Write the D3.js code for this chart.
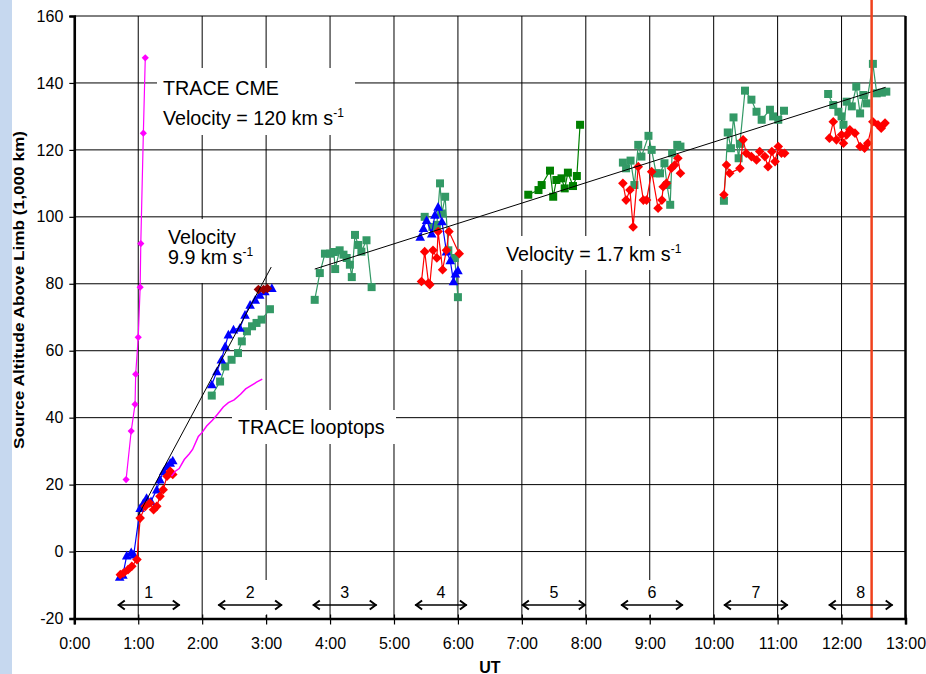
<!DOCTYPE html>
<html>
<head>
<meta charset="utf-8">
<script src="https://cdn.jsdelivr.net/npm/d3@7/dist/d3.min.js"></script>
<style>
  html, body { margin: 0; padding: 0; background: #ffffff; }
  svg { display: block; }
  text { font-family: "Liberation Sans", Arial, Helvetica, sans-serif; fill: #000; }
</style>
</head>
<body>
<svg id="chart" width="926" height="674"></svg>
<script>
// ---- data: [hour UT, altitude in 1,000 km] ----
const cmeTrace = [[0.81,21.5],[0.89,36],[0.95,44],[0.96,53],[1.0,64],[1.03,79],[1.04,92],[1.08,125],[1.11,147.5]];
const looptops = [[1.52,22.5],[1.58,24],[1.64,24.8],[1.72,27.5],[1.80,29.2],[1.85,30.5],[1.94,34.4],[2.0,35.6],[2.07,37.5],[2.16,39.2],[2.24,41],[2.33,43.2],[2.41,44.5],[2.5,45.3],[2.6,47],[2.68,48.6],[2.75,49.4],[2.85,50.6],[2.94,51.5]];

const bluePhase1 = [[0.71,-7.6],[0.76,-7.0],[0.82,-1.2],[0.89,-0.2],[0.93,-0.9],[1.03,13],[1.08,14.5],[1.13,16],[1.2,15],[1.29,18.5],[1.34,21.5],[1.40,24],[1.45,25.5],[1.50,26.5],[1.54,27.2]];
const bluePhase2 = [[2.15,49.9],[2.23,53.8],[2.30,57.3],[2.36,61.3],[2.41,64.8],[2.49,66.3],[2.59,66.8],[2.67,70.7],[2.75,73.7],[2.83,75.2],[2.90,76.7],[2.98,77.7],[3.09,78.7]];
const bluePhase4 = [[5.41,94],[5.46,96.6],[5.51,99],[5.59,95],[5.64,100.6],[5.69,103],[5.75,98.6],[5.82,89.6],[5.88,87],[5.93,80.7],[5.96,83],[6.0,84]];

const redPhase1 = [[0.72,-6.9],[0.77,-6.4],[0.84,-5.4],[0.90,-4.4],[0.98,-2.4],[1.03,10],[1.11,13.5],[1.18,14.5],[1.24,12.5],[1.29,13.5],[1.34,16.5],[1.39,18.5],[1.45,22.5],[1.50,24],[1.54,23]];
const darkRedPhase2 = [[2.88,78.3],[2.96,78.3],[3.02,78.6]];
const redPhase4 = [[5.43,80.7],[5.48,89.6],[5.54,80.2],[5.56,79.7],[5.61,90],[5.67,87.7],[5.69,95.6],[5.76,84.2],[5.82,90],[5.86,95.6],[6.02,89]];
const redPhase6 = [[8.58,110],[8.63,105],[8.69,108],[8.74,97],[8.82,115],[8.90,105],[8.95,105],[9.03,113.5],[9.13,102.6],[9.19,105],[9.21,109],[9.26,110],[9.34,114.5],[9.39,115.5],[9.44,117.5],[9.48,113]];
const redPhase7 = [[10.16,106.6],[10.20,115.5],[10.25,113],[10.41,114.5],[10.46,123],[10.51,119],[10.59,118],[10.67,117],[10.72,119.5],[10.80,118],[10.85,115],[10.91,119.5],[10.96,116.5],[11.01,121],[11.06,119],[11.11,119]];
const redPhase8 = [[11.81,123.5],[11.87,128.4],[11.92,123],[12.00,124.5],[12.03,122],[12.08,124.5],[12.13,126],[12.21,125],[12.29,121],[12.36,120.5],[12.41,122],[12.49,128.4],[12.57,127.5],[12.62,126.5],[12.68,128]];

const greenPhase2 = [[2.15,46.6],[2.28,50.8],[2.36,55.3],[2.46,57.3],[2.56,59.3],[2.62,62.8],[2.70,65.8],[2.78,67.3],[2.85,68.3],[2.93,69.3],[3.06,72.4]];
const greenPhase3 = [[3.76,75.2],[3.84,83.2],[3.92,89],[4.00,89],[4.06,89.5],[4.08,84.4],[4.15,90],[4.21,88.7],[4.26,87.7],[4.31,85.7],[4.34,82],[4.39,94.6],[4.44,91.6],[4.49,89.6],[4.57,93],[4.65,79]];
const greenPhase4 = [[5.48,100],[5.60,97],[5.67,97.6],[5.72,110],[5.75,101],[5.80,106],[5.85,90],[5.95,87.7],[6.0,76]];
const greenPhase6 = [[8.58,116.2],[8.63,114.5],[8.70,116.8],[8.76,109.5],[8.82,121.5],[8.87,118],[8.98,124.2],[9.03,120],[9.10,113],[9.16,113],[9.23,116],[9.27,109.5],[9.32,103.6],[9.35,119],[9.43,121.5],[9.48,121]];
const greenPhase7 = [[10.16,104.8],[10.22,125.2],[10.27,120.5],[10.31,129.7],[10.39,117.5],[10.41,121.8],[10.49,137.7],[10.59,135],[10.67,131.4],[10.75,129],[10.88,132],[10.93,130],[11.01,129],[11.10,131.7]];
const greenPhase8 = [[11.79,136.7],[11.87,133.4],[11.95,131.4],[12.00,130],[12.03,127.5],[12.08,134.4],[12.16,133],[12.23,138.9],[12.29,130.9],[12.34,136.4],[12.39,133.9],[12.49,145.7],[12.55,136.9],[12.63,137.1],[12.70,137.4]];
const darkGreenPhase5 = [[7.10,106.6],[7.26,108],[7.31,109.5],[7.44,113.8],[7.49,106],[7.54,111],[7.62,111.5],[7.67,108.5],[7.72,113.2],[7.80,109.2],[7.86,112.2],[7.91,127.5]];

// fitted velocity lines
const fitFast = [[1.0,10.8],[3.08,85]];
const fitSlow = [[3.76,84.4],[12.69,138.7]];

// marked time
const markerHour = 12.47;

// observation intervals
const phaseLabels = ["1","2","3","4","5","6","7","8"];
const phaseStart = [0.68,2.25,3.73,5.33,7.00,8.55,10.16,11.80];
const phaseEnd   = [1.65,3.25,4.73,6.14,8.00,9.52,11.16,12.80];

// axes
const xTickHours = [0,1,2,3,4,5,6,7,8,9,10,11,12,13];
const xTickLabels = ["0:00","1:00","2:00","3:00","4:00","5:00","6:00","7:00","8:00","9:00","10:00","11:00","12:00","13:00"];
const yTicks = [-20,0,20,40,60,80,100,120,140,160];

// ---- drawing ----
const svg = d3.select("#chart");
const plotLeft = 74.3, plotRight = 905.5, plotTop = 16, plotBottom = 618.5;
const x = d3.scaleLinear().domain([0, 13]).range([plotLeft, plotRight]);
const y = d3.scaleLinear().domain([-20, 160]).range([plotBottom, plotTop]);

svg.append("rect").attr("width", 926).attr("height", 674).attr("fill", "#fff");
svg.append("rect").attr("x", 0).attr("y", 0).attr("width", 12).attr("height", 674).attr("fill", "#c6d8ef");

// grid
const grid = svg.append("g").attr("stroke", "#000").attr("stroke-width", 1);
grid.selectAll("line.h").data(yTicks).join("line").attr("class", "h")
  .attr("x1", plotLeft).attr("x2", plotRight).attr("y1", d => y(d)).attr("y2", d => y(d));
grid.selectAll("line.v").data(xTickHours).join("line").attr("class", "v")
  .attr("x1", d => x(d)).attr("x2", d => x(d)).attr("y1", plotTop).attr("y2", plotBottom);

// text boxes that hide the grid behind them
const boxes = svg.append("g").attr("fill", "#fff");
boxes.append("rect").attr("x", 157).attr("y", 68).attr("width", 198).attr("height", 67);
boxes.append("rect").attr("x", 160).attr("y", 219).attr("width", 96).attr("height", 64);
boxes.append("rect").attr("x", 232).attr("y", 410).attr("width", 164).attr("height", 34);
boxes.append("rect").attr("x", 500).attr("y", 236).attr("width", 190).attr("height", 34);
const boxedPhases = ["2", "6"];
phaseLabels.forEach((lab, i) => {
  if (!boxedPhases.includes(lab)) return;
  const cx = x((phaseStart[i] + phaseEnd[i]) / 2);
  boxes.append("rect").attr("x", cx - 20).attr("y", 580).attr("width", 40).attr("height", 35);
});

// marker shapes
const diamond = r => `M0,${-r}L${r},0L0,${r}L${-r},0Z`;
const triangle = r => `M0,${-r}L${r},${r * 0.8}L${-r},${r * 0.8}Z`;
const square = r => `M${-r},${-r}H${r}V${r}H${-r}Z`;
const line = d3.line().x(d => x(d[0])).y(d => y(d[1]));

function series(data, color, lineColor, shape, withLine = true) {
  const g = svg.append("g");
  if (withLine) {
    g.append("path").attr("d", line(data)).attr("fill", "none")
      .attr("stroke", lineColor).attr("stroke-width", 1.2);
  }
  g.selectAll("path.m").data(data).join("path").attr("class", "m")
    .attr("transform", d => `translate(${x(d[0])},${y(d[1])})`)
    .attr("d", shape).attr("fill", color);
}

const seaGreen = "#339966";
[greenPhase2, greenPhase3, greenPhase4, greenPhase6, greenPhase7, greenPhase8]
  .forEach(s => series(s, seaGreen, seaGreen, square(4)));
series(darkGreenPhase5, "#008000", "#008000", square(4));
[bluePhase1, bluePhase2, bluePhase4].forEach(s => series(s, "#0000ff", "#0000ff", triangle(4.8)));
[redPhase1, redPhase4, redPhase6, redPhase7, redPhase8].forEach(s => series(s, "#ff0000", "#ff0000", diamond(4.8)));
series(darkRedPhase2, "#990000", "#990000", diamond(4.8));

// TRACE curves
svg.append("path").attr("d", line(looptops)).attr("fill", "none").attr("stroke", "#ff00ff").attr("stroke-width", 1.5);
series(cmeTrace, "#ff00ff", "#ff00ff", diamond(3.6));

// velocity fits
[fitFast, fitSlow].forEach(f => svg.append("path").attr("d", line(f))
  .attr("fill", "none").attr("stroke", "#000").attr("stroke-width", 1));

// marked time
svg.append("line").attr("x1", x(markerHour)).attr("x2", x(markerHour))
  .attr("y1", 0).attr("y2", plotBottom).attr("stroke", "#f0401c").attr("stroke-width", 2.5);

// interval arrows
const ag = svg.append("g");
phaseLabels.forEach((lab, i) => {
  const x1 = x(phaseStart[i]), x2 = x(phaseEnd[i]), ay = 605;
  ag.append("line").attr("x1", x1).attr("x2", x2).attr("y1", ay).attr("y2", ay)
    .attr("stroke", "#000").attr("stroke-width", 1.5);
  ag.append("path").attr("d", `M${x1 + 7},${ay - 4.5}L${x1 + 1},${ay}L${x1 + 7},${ay + 4.5}`)
    .attr("fill", "none").attr("stroke", "#000").attr("stroke-width", 2);
  ag.append("path").attr("d", `M${x2 - 7},${ay - 4.5}L${x2 - 1},${ay}L${x2 - 7},${ay + 4.5}`)
    .attr("fill", "none").attr("stroke", "#000").attr("stroke-width", 2);
  ag.append("text").attr("x", (x1 + x2) / 2).attr("y", 598).attr("text-anchor", "middle")
    .attr("font-size", 16).text(lab);
});

// axes
const yAxis = svg.append("g").attr("transform", `translate(${plotLeft},0)`)
  .call(d3.axisLeft(y).tickValues(yTicks).tickSize(5).tickPadding(6).tickFormat(d => String(d)));
const xAxis = svg.append("g").attr("transform", `translate(0,${plotBottom})`)
  .call(d3.axisBottom(x).tickValues(xTickHours).tickSize(6).tickPadding(13).tickFormat((d, i) => xTickLabels[i]));
[yAxis, xAxis].forEach(a => {
  a.select(".domain").attr("stroke", "#000").attr("stroke-width", 2.5);
  a.selectAll(".tick line").attr("stroke", "#000").attr("stroke-width", 1.2);
  a.selectAll(".tick text").attr("font-size", 16).attr("font-family", "Liberation Sans, Arial, sans-serif").attr("fill", "#000");
});
xAxis.selectAll(".tick line").attr("y1", -4);
// right frame edge
svg.append("line").attr("x1", plotRight).attr("x2", plotRight).attr("y1", plotTop).attr("y2", plotBottom + 1)
  .attr("stroke", "#000").attr("stroke-width", 2.5);

// annotations
const ann = svg.append("g").attr("font-size", 19.7);
function velocityText(parent, px, py, prefix) {
  const t = parent.append("text").attr("x", px).attr("y", py);
  t.append("tspan").text(prefix + " km s");
  t.append("tspan").attr("dy", -8).attr("font-size", 12).text("-1");
}
ann.append("text").attr("x", 163).attr("y", 95).text("TRACE CME");
velocityText(ann, 163, 125, "Velocity = 120");
ann.append("text").attr("x", 168).attr("y", 244).text("Velocity");
velocityText(ann, 168, 264, "9.9");
ann.append("text").attr("x", 238).attr("y", 434).text("TRACE looptops");
velocityText(ann, 506, 261, "Velocity = 1.7");

// axis titles
svg.append("text").attr("transform", "translate(24,290) rotate(-90)")
  .attr("text-anchor", "middle").attr("font-size", 15).attr("font-weight", "bold")
  .attr("textLength", 318).attr("lengthAdjust", "spacingAndGlyphs")
  .text("Source Altitude Above Limb (1,000 km)");
svg.append("text").attr("x", (plotLeft + plotRight) / 2).attr("y", 673).attr("text-anchor", "middle")
  .attr("font-size", 16).attr("font-weight", "bold").text("UT");
</script>
</body>
</html>
